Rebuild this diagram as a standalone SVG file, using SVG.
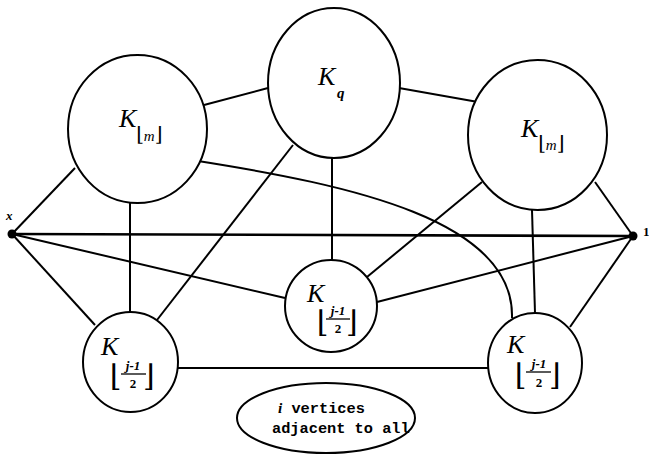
<svg xmlns="http://www.w3.org/2000/svg" width="649" height="460" viewBox="0 0 649 460">
<style>
.n{fill:#fff;stroke:#000;stroke-width:2}
.e{fill:none;stroke:#000;stroke-width:2}
.k{font-family:"Liberation Serif",serif;font-style:italic;font-size:26px}
.s{font-family:"Liberation Serif",serif;font-style:italic;font-size:15px}
.b{font-family:"DejaVu Serif",serif;font-size:20px}
.bb{font-family:"DejaVu Serif",serif;font-size:30px}
.f{font-family:"Liberation Serif",serif;font-style:italic;font-size:13px;font-weight:bold}
.t{font-family:"Liberation Mono",monospace;font-size:15.3px;font-weight:bold}
</style>
<rect width="649" height="460" fill="#fff"/>
<g id="connectors">
<line class="e" x1="204" y1="105" x2="268" y2="88"/>
<line class="e" x1="399" y1="88" x2="478" y2="102"/>
<line class="e" x1="12" y1="234" x2="75" y2="168"/>
<line class="e" x1="130" y1="203" x2="130" y2="313"/>
<line class="e" x1="293" y1="145" x2="157" y2="320"/>
<line class="e" x1="332" y1="158" x2="332" y2="261"/>
<line class="e" x1="482" y1="182" x2="367" y2="277"/>
<line class="e" x1="595" y1="182" x2="633" y2="236"/>
<line class="e" x1="532" y1="210" x2="535" y2="313"/>
<line class="e" x1="12" y1="234" x2="633" y2="236" style="stroke-width:2.6"/>
<line class="e" x1="12" y1="234" x2="285" y2="298"/>
<line class="e" x1="12" y1="234" x2="95" y2="325"/>
<line class="e" x1="633" y1="236" x2="377" y2="302"/>
<line class="e" x1="633" y1="236" x2="570" y2="327"/>
<line class="e" x1="178" y1="368" x2="488" y2="368"/>
<path class="e" d="M198,161 C350,185 515,220 512,318"/>
</g>
<g id="vx">
<circle cx="12" cy="234" r="4.5"/>
<text x="6" y="220" class="f">x</text>
</g>
<g id="v1">
<circle cx="633" cy="236" r="4.5"/>
<text x="643" y="236" class="f" style="font-style:normal">1</text>
</g>
<g id="kl">
<ellipse class="n" cx="137.5" cy="129" rx="69.5" ry="74"/>
<text x="119" y="127" class="k">K</text>
<text x="136" y="141" class="b">⌊<tspan class="s">m</tspan>⌋</text>
</g>
<g id="kq">
<ellipse class="n" cx="334" cy="83" rx="66" ry="75"/>
<text x="318" y="85" class="k">K</text>
<text x="337" y="98" class="s" style="font-weight:bold">q</text>
</g>
<g id="kr">
<ellipse class="n" cx="537.5" cy="135" rx="69.5" ry="75"/>
<text x="521" y="137" class="k">K</text>
<text x="538" y="150" class="b">⌊<tspan class="s">m</tspan>⌋</text>
</g>
<g id="bl">
<ellipse class="n" cx="130.5" cy="362" rx="47.5" ry="50"/>
<text x="101" y="355" class="k">K</text>
<text x="110" y="386" class="bb">⌊</text>
<text x="143" y="386" class="bb">⌋</text>
<text x="133" y="370" class="f" text-anchor="middle">j-1</text>
<line x1="121" y1="374" x2="146" y2="374" stroke="#000" stroke-width="1.3"/>
<text x="133" y="388" class="f" text-anchor="middle" style="font-style:normal">2</text>
</g>
<g id="mid">
<ellipse class="n" cx="331" cy="306" rx="46" ry="46"/>
<text x="307" y="302" class="k">K</text>
<text x="317" y="332" class="bb">⌊</text>
<text x="346" y="332" class="bb">⌋</text>
<text x="338" y="315" class="f" text-anchor="middle">j-1</text>
<line x1="326" y1="319" x2="350" y2="319" stroke="#000" stroke-width="1.3"/>
<text x="338" y="333" class="f" text-anchor="middle" style="font-style:normal">2</text>
</g>
<g id="br">
<ellipse class="n" cx="535" cy="363" rx="47" ry="50"/>
<text x="507" y="353" class="k">K</text>
<text x="515" y="385" class="bb">⌊</text>
<text x="549" y="385" class="bb">⌋</text>
<text x="539" y="368" class="f" text-anchor="middle">j-1</text>
<line x1="526" y1="372" x2="551" y2="372" stroke="#000" stroke-width="1.3"/>
<text x="539" y="387" class="f" text-anchor="middle" style="font-style:normal">2</text>
</g>
<g id="iv">
<ellipse class="n" cx="326" cy="418" rx="89" ry="35"/>
<text x="278" y="413" class="t"><tspan style="font-family:'Liberation Serif',serif;font-style:italic">i</tspan> vertices</text>
<text x="272" y="433" class="t">adjacent to all</text>
</g>
</svg>
